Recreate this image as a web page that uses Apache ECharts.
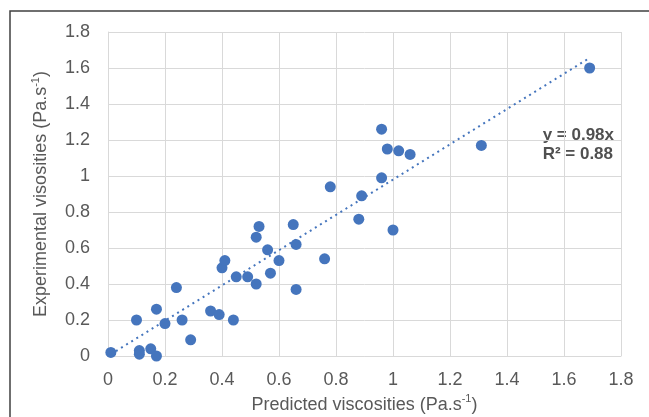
<!DOCTYPE html>
<html>
    <head>
        <meta charset="utf-8">
        <script src="https://cdn.jsdelivr.net/npm/echarts@6/dist/echarts.min.js"></script>
        <style>
            html, body { margin: 0; padding: 0; background: #fff; }
            #main { width: 649px; height: 417px; }
        </style>
    </head>
    <body>
        <div id="main"></div>
        <script>
        // predicted (x) vs experimental (y) viscosities
        var predicted = [0.01, 0.10, 0.11, 0.11, 0.15, 0.17, 0.17, 0.20, 0.24, 0.26,
                         0.29, 0.36, 0.39, 0.40, 0.41, 0.44, 0.45, 0.49, 0.52, 0.52,
                         0.53, 0.56, 0.57, 0.60, 0.65, 0.66, 0.66, 0.76, 0.78, 0.88,
                         0.89, 0.96, 0.96, 0.98, 1.00, 1.02, 1.06, 1.31, 1.69];
        var experimental = [0.02, 0.20, 0.03, 0.01, 0.04, 0.00, 0.26, 0.18, 0.38, 0.20,
                            0.09, 0.25, 0.23, 0.49, 0.53, 0.20, 0.44, 0.44, 0.66, 0.40,
                            0.72, 0.59, 0.46, 0.53, 0.73, 0.62, 0.37, 0.54, 0.94, 0.76,
                            0.89, 1.26, 0.99, 1.15, 0.70, 1.14, 1.12, 1.17, 1.60];
        var axisTicks = [0, 0.2, 0.4, 0.6, 0.8, 1, 1.2, 1.4, 1.6, 1.8];
        var trendSlope = 0.98;
        var trendText = ['y = 0.98x', 'R\u00b2 = 0.88'];

        var points = predicted.map(function (x, i) { return [x, experimental[i]]; });
        var xMin = Math.min.apply(null, predicted);
        var xMax = Math.max.apply(null, predicted);
        var trend = [[xMin, xMin * trendSlope], [xMax, xMax * trendSlope]];

        var font = 'Liberation Sans, Arial, sans-serif';
        var blue = '#4575bd';
        var grey = '#595959';

        function axis(name, gap, margin) {
            return {
                type: 'value',
                min: axisTicks[0],
                max: axisTicks[axisTicks.length - 1],
                interval: axisTicks[1] - axisTicks[0],
                name: name,
                nameLocation: 'middle',
                nameGap: gap,
                nameTextStyle: {
                    fontFamily: font, fontSize: 18, color: grey, lineHeight: 22,
                    rich: {
                        sup: { fontFamily: font, fontSize: 11, color: grey, verticalAlign: 'top', lineHeight: 22 }
                    }
                },
                axisLine: { show: true, lineStyle: { color: '#d9d9d9', width: 1 } },
                axisTick: { show: false },
                axisLabel: { fontFamily: font, fontSize: 18, color: grey, margin: margin },
                splitLine: { lineStyle: { color: '#d9d9d9', width: 1 } }
            };
        }

        var chart = echarts.init(document.getElementById('main'));
        chart.setOption({
            animation: false,
            grid: { left: 108, right: 28, top: 32, bottom: 61, outerBoundsMode: 'none' },
            xAxis: axis('Predicted viscosities (Pa.s{sup|-1})', 33, 15),
            yAxis: axis('Experimental visosities (Pa.s{sup|-1})', 56, 18),
            series: [
                {
                    type: 'line',
                    data: trend,
                    symbol: 'none',
                    lineStyle: { color: blue, width: 2, type: [2, 4] },
                    z: 1
                },
                {
                    type: 'scatter',
                    data: points,
                    symbolSize: 11,
                    itemStyle: { color: blue, opacity: 1 },
                    z: 2
                }
            ],
            graphic: [
                {
                    type: 'polyline',
                    shape: { points: [[10, 417], [10, 11], [649, 11]] },
                    style: { stroke: '#404040', lineWidth: 1.5, fill: null }
                },
                {
                    type: 'text',
                    right: 35,
                    top: 126,
                    style: {
                        text: trendText.join('\n'),
                        fontFamily: font, fontSize: 17, fontWeight: 'bold',
                        fill: '#505050', lineHeight: 19, align: 'right'
                    }
                }
            ]
        });
        </script>
    </body>
</html>
